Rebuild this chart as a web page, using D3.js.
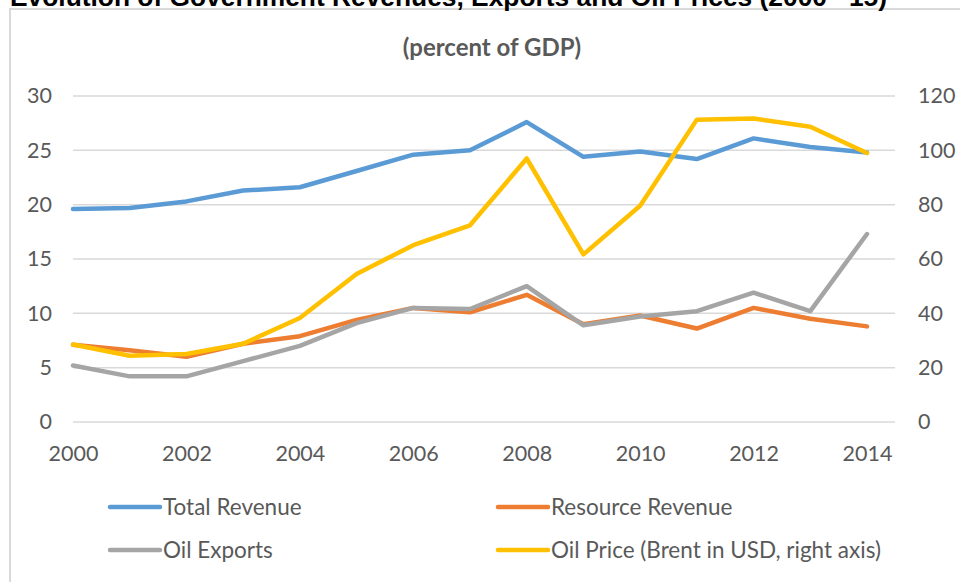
<!DOCTYPE html>
<html>
<head>
<meta charset="utf-8">
<script src="https://cdn.jsdelivr.net/npm/d3@7"></script>
<style>
  html, body { margin: 0; padding: 0; background: #fff; }
  svg { display: block; }
</style>
</head>
<body>
<svg id="chart" width="960" height="582"></svg>
<script>
const years = [2000,2001,2002,2003,2004,2005,2006,2007,2008,2009,2010,2011,2012,2013,2014];
const totalRevenue    = [19.6,19.7,20.3,21.3,21.6,23.1,24.6,25.0,27.6,24.4,24.9,24.2,26.1,25.3,24.8];
const resourceRevenue = [7.1,6.6,6.0,7.2,7.9,9.4,10.5,10.1,11.7,9.0,9.8,8.6,10.5,9.5,8.8];
const oilExports      = [5.2,4.2,4.2,5.6,7.0,9.1,10.5,10.4,12.5,8.9,9.7,10.2,11.9,10.2,17.3];
const oilPrice        = [28.5,24.4,25.0,28.8,38.3,54.5,65.1,72.4,97.0,61.7,79.6,111.3,111.7,108.7,99.0];
const leftTicks  = [0,5,10,15,20,25,30];
const rightTicks = [0,20,40,60,80,100,120];
const xTicks     = [2000,2002,2004,2006,2008,2010,2012,2014];
const titleText    = "Evolution of Government Revenues, Exports and Oil Prices (2000 –15)";
const subtitleText = "(percent of GDP)";
const seriesNames  = ["Total Revenue","Resource Revenue","Oil Exports","Oil Price (Brent in USD, right axis)"];

const colors = ["#5b9bd5","#ed7d31","#a5a5a5","#ffc000"];
const font = "Lato, 'Open Sans', sans-serif";
const svg = d3.select("#chart");

// frame
svg.append("rect").attr("x",10).attr("y",9).attr("width",970).attr("height",600)
  .attr("fill","#fff").attr("stroke","#d9d9d9").attr("stroke-width",2);

// title (clipped at top, as in the reference)
svg.append("text").attr("x",10).attr("y",6)
  .attr("font-family","'Liberation Sans', Arial, sans-serif").attr("font-weight","bold")
  .attr("font-size",26).attr("textLength",877).attr("lengthAdjust","spacingAndGlyphs")
  .attr("fill","#000").text(titleText);

svg.append("text").attr("x",492).attr("y",56).attr("text-anchor","middle")
  .attr("font-family",font).attr("font-weight","bold").attr("font-size",24)
  .attr("fill","#595959").text(subtitleText);

const x = d3.scaleLinear().domain([2000,2014]).range([73,867]);
const yL = d3.scaleLinear().domain([0,30]).range([422,96]);
const yR = d3.scaleLinear().domain([0,120]).range([422,96]);

// gridlines
svg.append("g").selectAll("line").data(leftTicks).join("line")
  .attr("x1",73).attr("x2",895)
  .attr("y1",d=>yL(d)).attr("y2",d=>yL(d))
  .attr("stroke","#d9d9d9").attr("stroke-width",1.5);

const axL = svg.append("g").attr("transform","translate(73,0)")
  .call(d3.axisLeft(yL).tickValues(leftTicks).tickSize(0).tickPadding(21));
const axR = svg.append("g").attr("transform","translate(895,0)")
  .call(d3.axisRight(yR).tickValues(rightTicks).tickSize(0).tickPadding(23));
const axX = svg.append("g").attr("transform","translate(0,422)")
  .call(d3.axisBottom(x).tickValues(xTicks).tickFormat(d3.format("d")).tickSize(0).tickPadding(24));
[axL,axR,axX].forEach(a=>{
  a.select(".domain").remove();
  a.selectAll("text").attr("font-family",font).attr("font-size",21.5).attr("fill","#595959");
});

const lineL = d3.line().x((d,i)=>x(years[i])).y(d=>yL(d));
const lineR = d3.line().x((d,i)=>x(years[i])).y(d=>yR(d));
const data = [[totalRevenue,lineL],[resourceRevenue,lineL],[oilExports,lineL],[oilPrice,lineR]];
data.forEach(([vals,gen],i)=>{
  svg.append("path").attr("d",gen(vals)).attr("fill","none")
    .attr("stroke",colors[i]).attr("stroke-width",4.5)
    .attr("stroke-linejoin","round").attr("stroke-linecap","round");
});

// legend
const legPos = [[110,507],[498,507],[110,550],[498,550]];
seriesNames.forEach((n,i)=>{
  const [lx,ly] = legPos[i];
  svg.append("line").attr("x1",lx).attr("x2",lx+50).attr("y1",ly).attr("y2",ly)
    .attr("stroke",colors[i]).attr("stroke-width",4.5).attr("stroke-linecap","round");
  svg.append("text").attr("x",lx+53).attr("y",ly).attr("dy","0.35em")
    .attr("font-family",font).attr("font-size",22.5).attr("fill","#595959").text(n);
});
</script>
</body>
</html>
